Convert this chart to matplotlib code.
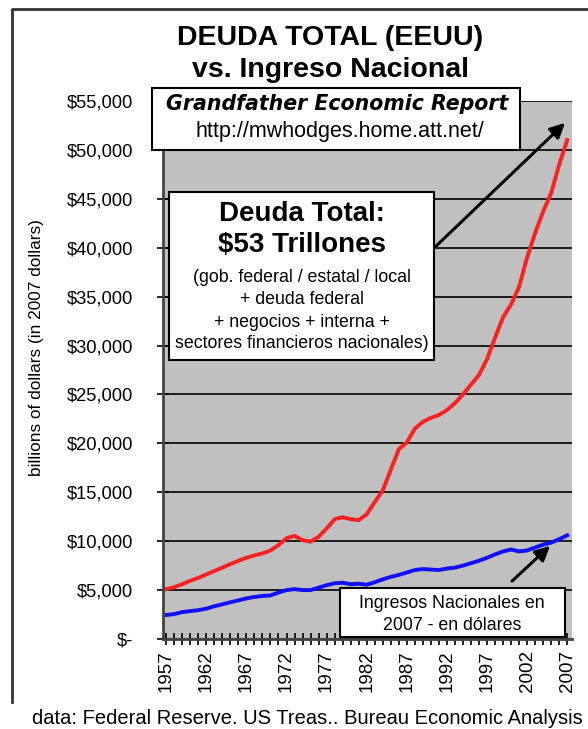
import matplotlib
matplotlib.use("Agg")
import matplotlib.pyplot as plt
from matplotlib.patches import Rectangle, FancyArrowPatch
from matplotlib.ticker import FuncFormatter, MultipleLocator

# ---- data (billions of 2007 dollars) -------------------------------------------
years = list(range(1957, 2008))
total_debt = [5100, 5300, 5600, 5950, 6250, 6600, 6950, 7300, 7650, 8000,
              8300, 8550, 8750, 9050, 9600, 10300, 10550, 10100, 9950, 10450,
              11300, 12250, 12450, 12250, 12150, 12750, 14000, 15200, 17300, 19400,
              20100, 21500, 22200, 22600, 22900, 23400, 24100, 25000, 26000, 27000,
              28600, 30800, 32900, 34200, 36000, 39000, 41500, 43700, 45600, 48500,
              51000]
national_income = [2450, 2550, 2750, 2850, 2950, 3100, 3350, 3550, 3750, 3950,
                   4150, 4300, 4400, 4450, 4750, 5000, 5100, 5000, 5000, 5250,
                   5500, 5700, 5750, 5600, 5650, 5550, 5800, 6100, 6350, 6550,
                   6800, 7050, 7150, 7100, 7050, 7200, 7300, 7500, 7750, 8000,
                   8300, 8650, 8950, 9150, 8950, 9050, 9350, 9650, 9850, 10200,
                   10600]
year_labels = list(range(1957, 2008, 5))

W, H = 588, 729
plt.rcParams["font.family"] = ["Liberation Sans", "DejaVu Sans"]


def fx(x):
    return x / W


def fy(y):
    return 1 - y / H


fig = plt.figure(figsize=(W / 100, H / 100), dpi=100)
ax = fig.add_axes([fx(163), fy(639), fx(572) - fx(163), fy(101) - fy(639)])
ax.set_facecolor("#c0c0c0")

ax.plot(years, total_debt, color="#ff2020", lw=2.8, solid_joinstyle="round")
ax.plot(years, national_income, color="#1010ff", lw=2.8, solid_joinstyle="round")

ax.set_xlim(1956.6, 2007.6)
ax.set_ylim(0, 55000)
ax.set_xticks(year_labels)
ax.set_xticklabels([str(y) for y in year_labels], rotation=90, fontsize=13.5)
ax.xaxis.set_minor_locator(MultipleLocator(1))
ax.yaxis.set_major_locator(MultipleLocator(5000))
ax.yaxis.set_major_formatter(FuncFormatter(lambda v, p: "$-" if v == 0 else f"${v:,.0f}"))
ax.tick_params(axis="y", labelsize=13.2, direction="inout", length=9, width=1.2, pad=17)
ax.tick_params(axis="x", which="both", direction="inout", length=8, width=1.2, pad=4)
ax.grid(axis="y", color="black", lw=1.2)
ax.set_axisbelow(True)
for s in ["top", "right"]:
    ax.spines[s].set_visible(False)
for s in ["left", "bottom"]:
    ax.spines[s].set_color("#444444")
    ax.spines[s].set_linewidth(2)

fig.text(fx(37), fy(348), "billions of dollars (in 2007 dollars)", rotation=90,
         ha="center", va="center", fontsize=12.4)

# ---- titles ----------------------------------------------------------------
fig.text(fx(330), fy(38), "DEUDA TOTAL (EEUU)", ha="center", va="center",
         fontsize=20.5, fontweight="bold")
fig.text(fx(330), fy(70), "vs. Ingreso Nacional", ha="center", va="center",
         fontsize=20.5, fontweight="bold")

# outer frame (left + top edges)
fig.add_artist(plt.Line2D([fx(12), fx(12), fx(588)], [fy(702), fy(9), fy(9)],
                          transform=fig.transFigure, color="#333333", lw=2))

# ---- annotation boxes --------------------------------------------------------
def box(x0, y0, x1, y1):
    fig.add_artist(Rectangle((fx(x0), fy(y1)), fx(x1) - fx(x0), fy(y0) - fy(y1),
                             transform=fig.transFigure, facecolor="white",
                             edgecolor="black", lw=1.5, zorder=3))


box(152, 88, 520, 150)
fig.text(fx(337), fy(104), "Grandfather Economic Report", ha="center", va="center",
         fontsize=14.8, fontweight="bold", style="italic", family="DejaVu Sans", zorder=4)
fig.text(fx(340), fy(131), "http://mwhodges.home.att.net/", ha="center", va="center",
         fontsize=15.5, zorder=4)

box(169, 192, 434, 360)
fig.text(fx(302), fy(214), "Deuda Total:", ha="center", va="center",
         fontsize=20, fontweight="bold", zorder=4)
fig.text(fx(302), fy(245), "$53 Trillones", ha="center", va="center",
         fontsize=20, fontweight="bold", zorder=4)
for yy, line in zip([277, 300, 322, 344],
                    ["(gob. federal / estatal / local", "+ deuda federal",
                     "+ negocios + interna +", "sectores financieros nacionales)"]):
    fig.text(fx(302), fy(yy), line, ha="center", va="center", fontsize=12.8, zorder=4)

box(340, 588, 565, 637)
fig.text(fx(452), fy(603), "Ingresos Nacionales en", ha="center", va="center",
         fontsize=12.8, zorder=4)
fig.text(fx(452), fy(626), "2007 - en dólares", ha="center", va="center",
         fontsize=12.8, zorder=4)

# arrows
for (x0, y0), (x1, y1) in [((433, 249), (567, 121)), ((510, 583), (552, 544))]:
    fig.add_artist(FancyArrowPatch((fx(x0), fy(y0)), (fx(x1), fy(y1)),
                                   transform=fig.transFigure, arrowstyle="-|>",
                                   mutation_scale=22, lw=2.2, color="black", zorder=5))

fig.text(fx(583), fy(719), "data: Federal Reserve. US Treas.. Bureau Economic Analysis",
         ha="right", va="center", fontsize=14.5)

fig.savefig("out.png", dpi=100)
